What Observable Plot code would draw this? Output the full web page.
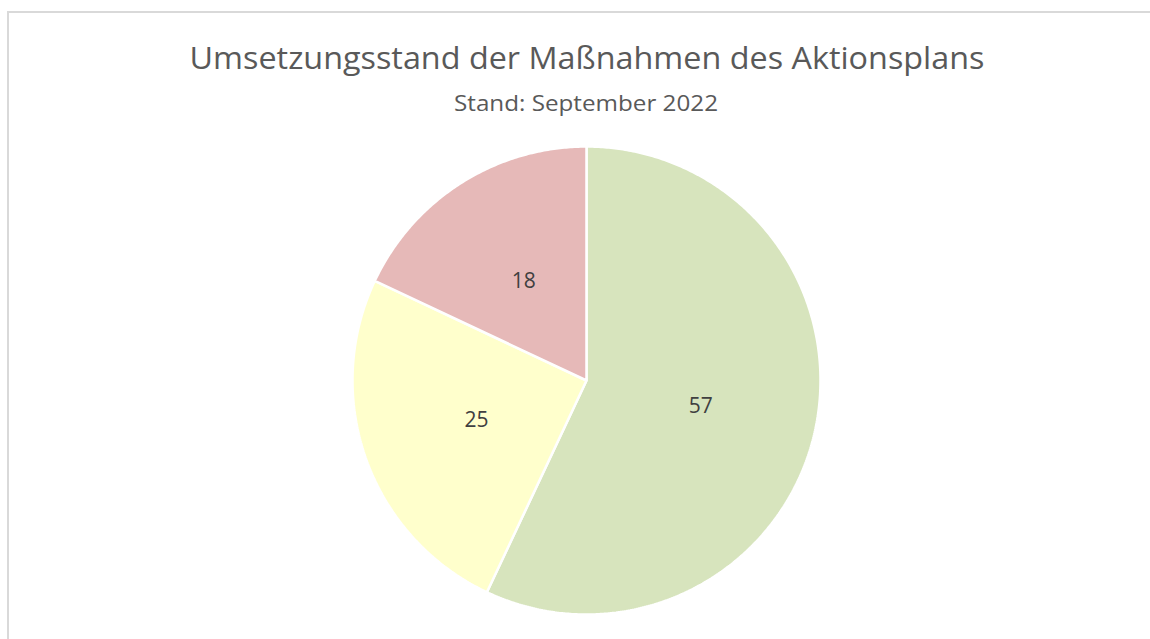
<!DOCTYPE html>
<html>
<head>
<meta charset="utf-8">
<script src="https://cdn.jsdelivr.net/npm/d3@7"></script>
<script src="https://cdn.jsdelivr.net/npm/@observablehq/plot@0.6"></script>
<style>
  html, body { margin: 0; padding: 0; background: #fff; overflow: hidden; }
  #wrap { position: relative; width: 1150px; height: 639px; overflow: hidden; font-family: "Open Sans", sans-serif; }
  #frameL { position: absolute; left: 7px; top: 11px; width: 2px; height: 640px; background: #d9d9d9; }
  #frameT { position: absolute; left: 7px; top: 11px; width: 1150px; height: 2px; background: #d9d9d9; }
  #chart { position: absolute; left: 0; top: 0; }
  #titles { position: absolute; left: 0; top: 0; }
</style>
</head>
<body>
<div id="wrap">
  <div id="frameL"></div>
  <div id="frameT"></div>
  <div id="chart"></div>
  <svg id="titles" width="1150" height="130">
    <text x="587" y="69" text-anchor="middle" font-family="Open Sans" font-size="31" fill="#595959" textLength="795" lengthAdjust="spacingAndGlyphs">Umsetzungsstand der Maßnahmen des Aktionsplans</text>
    <text x="586" y="111" text-anchor="middle" font-family="Open Sans" font-size="21" fill="#595959" textLength="264" lengthAdjust="spacingAndGlyphs">Stand: September 2022</text>
  </svg>
</div>
<script>
const categories = ["umgesetzt", "in Umsetzung", "nicht umgesetzt"];
const values = [57, 25, 18];
const colors = ["#d7e4bd", "#ffffcc", "#e6b9b8"];

const W = 1150, H = 639;
const cx = 586, cy = 380, R = 234;

const table = categories.map((c, i) => ({cat: c, value: values[i]}));
const arcs = d3.pie().sort(null).value(d => d.value)(table);

// polygon points for each slice (unit radius; angle 0 at top, clockwise)
const pts = [];
for (const a of arcs) {
  pts.push({cat: a.data.cat, x: 0, y: 0});
  const n = Math.max(2, Math.ceil((a.endAngle - a.startAngle) / (Math.PI / 360)));
  for (let k = 0; k <= n; k++) {
    const t = a.startAngle + (a.endAngle - a.startAngle) * k / n;
    pts.push({cat: a.data.cat, x: Math.sin(t), y: Math.cos(t)});
  }
}
const labels = arcs.map(a => {
  const m = (a.startAngle + a.endAngle) / 2;
  return {cat: a.data.cat, value: a.data.value, x: 0.5 * Math.sin(m), y: 0.5 * Math.cos(m)};
});

const chart = Plot.plot({
  width: W, height: H,
  margin: 0,
  x: {domain: [-cx / R, (W - cx) / R], axis: null},
  y: {domain: [-(H - cy) / R, cy / R], axis: null},
  color: {domain: categories, range: colors},
  marks: [
    Plot.line(pts, {x: "x", y: "y", z: "cat", fill: "cat", stroke: "white", strokeWidth: 2.5, strokeLinejoin: "miter", curve: "linear-closed"}),
    Plot.text(labels, {x: "x", y: "y", text: d => String(d.value), fill: "#404040", fontSize: 21, fontFamily: "Open Sans"})
  ],
  style: {background: "transparent", overflow: "hidden"}
});
chart.style.display = "block";
document.getElementById("chart").appendChild(chart);
</script>
</body>
</html>
